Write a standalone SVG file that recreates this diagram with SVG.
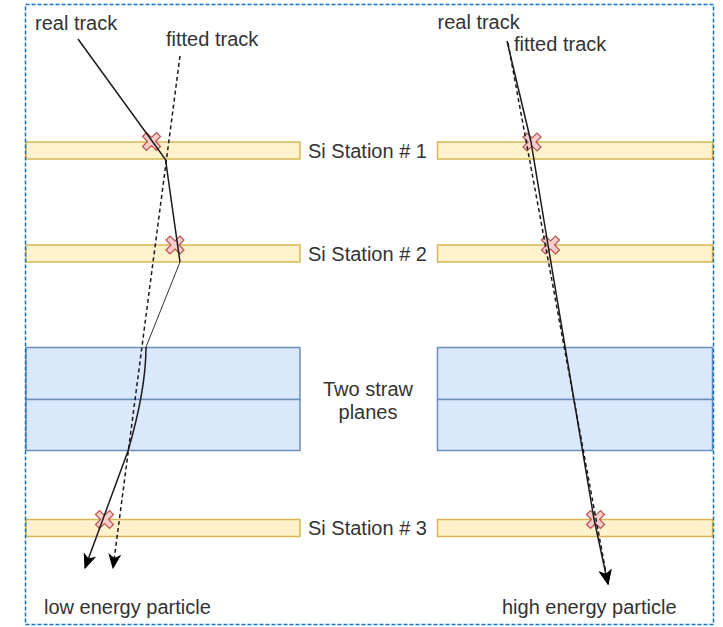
<svg xmlns="http://www.w3.org/2000/svg" width="723" height="627" viewBox="0 0 723 627">
<style>
.si{fill:#fff2cc;stroke:#d6b656;stroke-width:1.5}
.straw{fill:#dae8fc;stroke:#6c8ebf;stroke-width:1.5}
.hit{fill:#f8cecc;stroke:#b85450;stroke-width:1.2}
.t{font-family:"Liberation Sans",Arial,sans-serif;font-size:20px;fill:#333333}
.real{fill:none;stroke:#1a1a1a;stroke-width:1.5}
.thin{fill:none;stroke:#333333;stroke-width:1}
.fit{fill:none;stroke:#1a1a1a;stroke-width:1.5;stroke-dasharray:4 3}
</style>
<defs>
<marker id="arr" markerUnits="userSpaceOnUse" markerWidth="16" markerHeight="12" refX="13" refY="5.5" orient="auto" overflow="visible">
<path d="M0,0 L13,5.5 L0,11 L3.5,5.5 Z" fill="#000" stroke="#000" stroke-width="1"/>
</marker>
</defs>

<g id="si1-left"><rect class="si" x="26" y="142" width="274" height="17"/></g>
<g id="si2-left"><rect class="si" x="26" y="245" width="274" height="17"/></g>
<g id="si3-left"><rect class="si" x="26" y="519.5" width="274" height="17"/></g>
<g id="si1-right"><rect class="si" x="437.5" y="142" width="275" height="17"/></g>
<g id="si2-right"><rect class="si" x="437.5" y="245" width="275" height="17"/></g>
<g id="si3-right"><rect class="si" x="437.5" y="519.5" width="275" height="17"/></g>

<g id="straw-left">
<rect class="straw" x="26" y="347.5" width="274" height="52"/>
<rect class="straw" x="26" y="399.5" width="274" height="51"/>
</g>
<g id="straw-right">
<rect class="straw" x="437.5" y="347.5" width="275" height="52"/>
<rect class="straw" x="437.5" y="399.5" width="275" height="51"/>
</g>

<g id="hits">
<polygon class="hit" transform="translate(151.5,141.5)" points="-9,-5 -5,-9 0,-4 5,-9 9,-5 4,0 9,5 5,9 0,4 -5,9 -9,5 -4,0"/>
<polygon class="hit" transform="translate(175,245)" points="-9,-5 -5,-9 0,-4 5,-9 9,-5 4,0 9,5 5,9 0,4 -5,9 -9,5 -4,0"/>
<polygon class="hit" transform="translate(104.5,519.5)" points="-9,-5 -5,-9 0,-4 5,-9 9,-5 4,0 9,5 5,9 0,4 -5,9 -9,5 -4,0"/>
<polygon class="hit" transform="translate(532,142)" points="-9,-5 -5,-9 0,-4 5,-9 9,-5 4,0 9,5 5,9 0,4 -5,9 -9,5 -4,0"/>
<polygon class="hit" transform="translate(550.5,245)" points="-9,-5 -5,-9 0,-4 5,-9 9,-5 4,0 9,5 5,9 0,4 -5,9 -9,5 -4,0"/>
<polygon class="hit" transform="translate(595.5,519.5)" points="-9,-5 -5,-9 0,-4 5,-9 9,-5 4,0 9,5 5,9 0,4 -5,9 -9,5 -4,0"/>
</g>

<g id="connectors">
<path class="real" d="M78,39 L165.5,159.5 L180,262"/>
<path class="thin" d="M180,262 L146,347"/>
<path class="real" d="M146,347 C146,375 140,410 128,451 L85,568" marker-end="url(#arr)"/>
<path class="fit" d="M180,56 L113,568" marker-end="url(#arr)"/>
<path class="real" d="M507,41 L531,142 L548,245 L594,519 L608,584" marker-end="url(#arr)"/>
<path class="fit" d="M508,43 L608,584" marker-end="url(#arr)"/>
</g>

<g id="labels">
<text class="t" x="35" y="29.5">real track</text>
<text class="t" x="166" y="46">fitted track</text>
<text class="t" x="437.5" y="29">real track</text>
<text class="t" x="514" y="51">fitted track</text>
<text class="t" x="308" y="158">Si Station # 1</text>
<text class="t" x="308" y="261">Si Station # 2</text>
<text class="t" x="308" y="535">Si Station # 3</text>
<text class="t" x="368" y="395.5" text-anchor="middle">Two straw</text>
<text class="t" x="368" y="419" text-anchor="middle">planes</text>
<text class="t" x="44" y="614">low energy particle</text>
<text class="t" x="502" y="614">high energy particle</text>
</g>

<g id="frame"><rect x="25.5" y="4.5" width="688" height="620" fill="none" stroke="#0f74c8" stroke-width="1.5" stroke-dasharray="4 2"/></g>
</svg>
